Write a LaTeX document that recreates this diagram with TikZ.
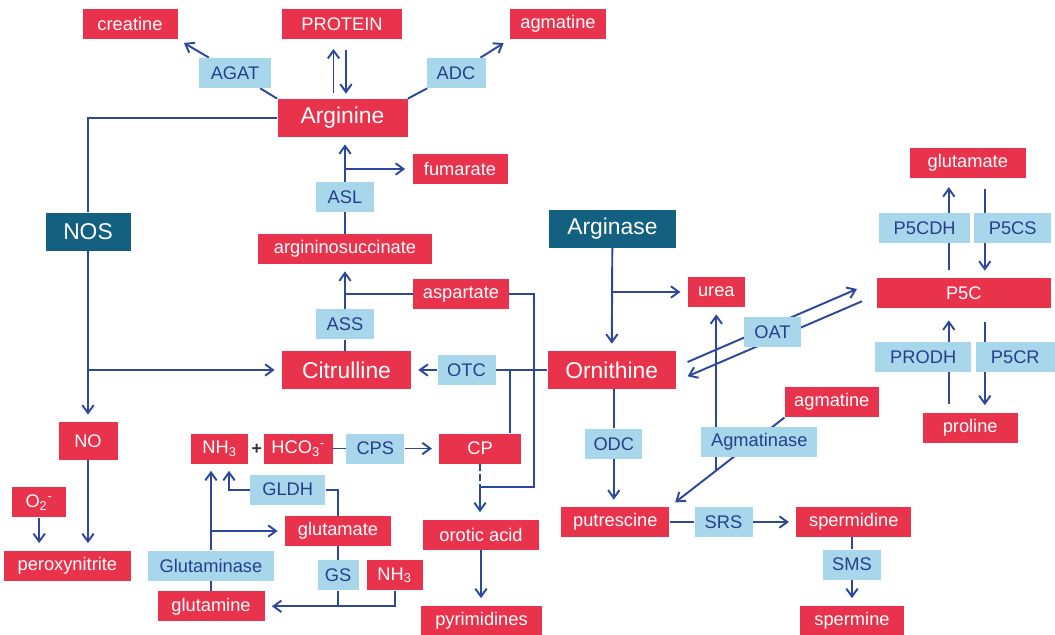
\documentclass[tikz,border=0pt]{standalone}
\usepackage{fontspec}
\setmainfont{Liberation Sans}
\usetikzlibrary{arrows.meta,backgrounds}
\newlength\pxu
\setlength\pxu{0.02cm}
\definecolor{metred}{RGB}{233,50,75}
\definecolor{enzblue}{RGB}{168,215,235}
\definecolor{enztext}{RGB}{38,62,140}
\definecolor{ctrlteal}{RGB}{20,96,128}
\definecolor{linkblue}{RGB}{45,72,155}

\begin{document}
\begin{tikzpicture}[x=0.02cm, y=-0.02cm, >={Straight Barb[length=4.5pt,width=6.5pt]},
    box/.style={rectangle, inner sep=0pt, minimum height=30\pxu},
    met/.style={box, fill=metred, text=white, font=\fontsize{10.4}{12}\selectfont},
    bigmet/.style={met, minimum height=38\pxu, font=\fontsize{13}{15}\selectfont},
    enz/.style={box, fill=enzblue, text=enztext, font=\fontsize{10.4}{12}\selectfont},
    ctrl/.style={box, fill=ctrlteal, text=white, minimum height=38\pxu, font=\fontsize{13}{15}\selectfont},
    arr/.style={->, shorten >=7\pxu}]
    \useasboundingbox (0,0) rectangle (1055,635);

    % arginine and its neighbours
    \node[met, minimum width=95\pxu] (creatine) at (130,24) {creatine};
    \node[met, minimum width=120\pxu] (protein) at (342,24) {PROTEIN};
    \node[met, minimum width=96\pxu] (agmtop) at (558,24) {agmatine};
    \node[enz, minimum width=72\pxu] (agat) at (235,73) {AGAT};
    \node[enz, minimum width=59\pxu] (adc) at (456,73) {ADC};
    \node[bigmet, minimum width=130\pxu] (arg) at (342.5,118) {Arginine};
    \node[ctrl, minimum width=85\pxu] (nos) at (88,231.7) {NOS};
    \node[ctrl, minimum width=127\pxu] (arginase) at (612.4,228.5) {Arginase};

    % urea cycle
    \node[met, minimum width=95\pxu] (fum) at (460,169) {fumarate};
    \node[enz, minimum width=58\pxu] (asl) at (345,197) {ASL};
    \node[met, minimum width=174\pxu] (asuc) at (345,249) {argininosuccinate};
    \node[met, minimum width=96\pxu] (asp) at (461,294.3) {aspartate};
    \node[enz, minimum width=58\pxu] (ass) at (345,324.3) {ASS};
    \node[bigmet, minimum width=129\pxu] (cit) at (346.5,370) {Citrulline};
    \node[enz, minimum width=58\pxu] (otc) at (466.5,370) {OTC};
    \node[bigmet, minimum width=128\pxu] (orn) at (611.7,370) {Ornithine};
    \node[met, minimum width=57\pxu] (urea) at (716.3,292) {urea};

    % nitric oxide
    \node[met, minimum width=59\pxu, minimum height=38\pxu] (no) at (88,441) {NO};
    \node[met, minimum width=54\pxu] (o2) at (39.2,502.3) {O\textsubscript{2}\textsuperscript{-}};
    \node[met, minimum width=127\pxu] (peroxy) at (67.4,565.5) {peroxynitrite};

    % carbamoyl phosphate and glutamine
    \node[met, minimum width=57\pxu] (nh3) at (219.6,448.5) {NH\textsubscript{3}};
    \node[font=\bfseries\fontsize{10}{12}\selectfont, text=black!80] (plus) at (256.8,449) {+};
    \node[met, minimum width=69.5\pxu] (hco) at (298.3,448.5) {HCO\textsubscript{3}\textsuperscript{-}};
    \node[enz, minimum width=58\pxu] (cps) at (375.3,448.5) {CPS};
    \node[met, minimum width=81.5\pxu] (cp) at (480,448.5) {CP};
    \node[enz, minimum width=75\pxu] (gldh) at (287.7,489.7) {GLDH};
    \node[met, minimum width=106\pxu] (glu) at (338,531) {glutamate};
    \node[enz, minimum width=126\pxu] (glnase) at (211,565.5) {Glutaminase};
    \node[met, minimum width=107\pxu] (gln) at (211,606.3) {glutamine};
    \node[enz, minimum width=41\pxu] (gs) at (338,575.3) {GS};
    \node[met, minimum width=56\pxu] (nh3b) at (394.6,575.3) {NH\textsubscript{3}};
    \node[met, minimum width=116\pxu] (orot) at (481,534.5) {orotic acid};
    \node[met, minimum width=121\pxu] (pyr) at (481.5,620.5) {pyrimidines};

    % proline
    \node[met, minimum width=116\pxu] (glur) at (967.8,162.8) {glutamate};
    \node[enz, minimum width=91\pxu] (p5cdh) at (924.7,227.8) {P5CDH};
    \node[enz, minimum width=77\pxu] (p5cs) at (1012.7,227.8) {P5CS};
    \node[met, minimum width=174\pxu] (p5c) at (963.8,293) {P5C};
    \node[enz, minimum width=57\pxu] (oat) at (772.5,332) {OAT};
    \node[enz, minimum width=96\pxu] (prodh) at (923.2,357) {PRODH};
    \node[enz, minimum width=79\pxu] (p5cr) at (1015.3,357) {P5CR};
    \node[met, minimum width=95\pxu] (pro) at (970.2,427.5) {proline};

    % polyamines
    \node[met, minimum width=94\pxu] (agmmid) at (831.8,402.2) {agmatine};
    \node[enz, minimum width=116\pxu] (agmase) at (759.3,442) {Agmatinase};
    \node[enz, minimum width=57\pxu] (odc) at (613.8,443.8) {ODC};
    \node[met, minimum width=108\pxu] (put) at (615.3,522) {putrescine};
    \node[enz, minimum width=58\pxu] (srs) at (723.5,522) {SRS};
    \node[met, minimum width=115\pxu] (spd) at (853.8,522) {spermidine};
    \node[enz, minimum width=58\pxu] (sms) at (852,564.7) {SMS};
    \node[met, minimum width=104\pxu] (spm) at (852,620.5) {spermine};

    \begin{scope}[on background layer]
    \begin{scope}[color=linkblue, line width=1.1pt]
        \draw[arr, shorten <=6\pxu, shorten >=9.6\pxu] ([xshift=-9\pxu]arg.north) -- ([xshift=-9\pxu]arg.north |- protein.south);
        \draw[arr, shorten <=11\pxu, shorten >=5\pxu] ([xshift=3.5\pxu]arg.north |- protein.south) -- ([xshift=3.5\pxu]arg.north);
        \draw (arg.north west) -- (agat);
        \draw[arr] (agat) -- (creatine.south east);
        \draw (arg.north east) -- (adc);
        \draw[arr] (adc) -- (agmtop.south west);

        \draw (arg.west) -| (nos.north);
        \draw[arr] (nos.south) -- (no.north);
        \draw[arr] (nos.south |- cit.west) -- (cit.west);
        \draw[arr] (no.south) -- (no.south |- peroxy.north);
        \draw[arr] (o2.south) -- (o2.south |- peroxy.north);

        \draw[arr] (asl.north) -- (asl.north |- arg.south);
        \draw[arr] (asl.north |- fum.west) -- (fum.west);
        \draw (asuc) -- (asl);
        \draw[arr] (ass.north) -- (ass.north |- asuc.south);
        \draw (asp.west) -- (asp.west -| ass.north);
        \draw (ass.south) -- (ass.south |- cit.north);
        \draw[arr] (otc.west) -- (cit.east);
        \draw (orn.west) -- (otc.east);
        \draw ([xshift=-11\pxu]cp.north east) -- ([xshift=-11\pxu]cp.north east |- otc.east);
        \coordinate (cpjoin) at ([yshift=-23\pxu]cp.south);
        \draw (asp.east) -- ++(25\pxu,0) |- (cpjoin);
        \draw[dash pattern=on 7\pxu off 3\pxu] (cp.south) -- (cpjoin);
        \draw[arr] (cpjoin) -- (cpjoin |- orot.north);
        \draw[arr] (orot.south) -- (orot.south |- pyr.north);

        \draw (hco) -- (cps);
        \draw[arr] (cps) -- (cp);
        \draw[arr] (gldh.west) -| ([xshift=9.4\pxu]nh3.south);
        \draw (gldh.east) -| (glu.north);
        \draw[arr] (glnase.north) -- (glnase.north |- nh3.south);
        \draw[arr] (glnase.north |- glu.west) -- (glu.west);
        \draw (glnase) -- (gln);
        \draw (glu) -- (gs);
        \draw[arr] (gs.south) |- (gln.east);
        \draw (nh3b.south) |- (gs.south |- gln.east);

        \draw[arr] (arginase) -- (orn);
        \draw[arr] (arginase.south |- urea.west) -- (urea.west);
        \draw[arr, shorten >=0pt] ([xshift=11.5\pxu, yshift=8\pxu]orn.east) -- ([xshift=-19.5\pxu, yshift=4\pxu]p5c.west);
        \draw[arr, shorten >=0pt] ([xshift=-14.5\pxu, yshift=-8.3\pxu]p5c.west) -- ([xshift=11.5\pxu, yshift=-6.3\pxu]orn.east);
        \draw (odc.north) -- (odc.north |- orn.south);
        \draw[arr] (odc.south) -- (odc.south |- put.north);
        \draw (put) -- (srs);
        \draw[arr] (srs) -- (spd);
        \draw (sms.north) -- (sms.north |- spd.south);
        \draw[arr] (sms.south) -- (sms.south |- spm.north);
        \draw[arr] (agmmid.south west) -- (put.north east) coordinate[pos=0.59] (ubranch);
        \draw[arr] (urea.south |- ubranch) -- (urea.south);

        \draw[arr, shorten <=8\pxu, shorten >=9\pxu] ([xshift=-15\pxu]p5c.north) -- ([xshift=-15\pxu]p5c.north |- glur.south);
        \draw[arr, shorten <=11\pxu] ([xshift=21\pxu]p5c.north |- glur.south) -- ([xshift=21\pxu]p5c.north);
        \draw[arr, shorten <=8\pxu, shorten >=12\pxu] ([xshift=-15\pxu]p5c.south |- pro.north) -- ([xshift=-15\pxu]p5c.south);
        \draw[arr, shorten <=14\pxu] ([xshift=21\pxu]p5c.south) -- ([xshift=21\pxu]p5c.south |- pro.north);
    \end{scope}
    \end{scope}
\end{tikzpicture}
\end{document}
